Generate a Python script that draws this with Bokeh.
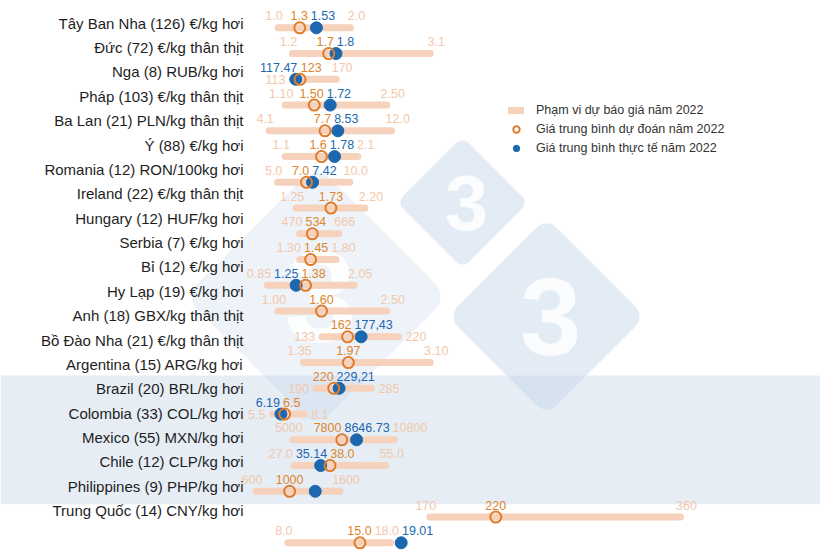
import math
from bokeh.plotting import figure
from bokeh.models import Range1d, ColumnDataSource, Legend, LegendItem
from bokeh.core.properties import value
from bokeh.embed import file_html
from bokeh.resources import INLINE

# ---------------- data ----------------
COUNTRIES = [
    "Tây Ban Nha (126) €/kg hơi",
    "Đức (72) €/kg thân thịt",
    "Nga (8) RUB/kg hơi",
    "Pháp (103) €/kg thân thịt",
    "Ba Lan (21) PLN/kg thân thịt",
    "Ý (88) €/kg hơi",
    "Romania (12) RON/100kg hơi",
    "Ireland (22) €/kg thân thịt",
    "Hungary (12) HUF/kg hơi",
    "Serbia (7) €/kg hơi",
    "Bỉ (12) €/kg hơi",
    "Hy Lạp (19) €/kg hơi",
    "Anh (18) GBX/kg thân thịt",
    "Bồ Đào Nha (21) €/kg thân thịt",
    "Argentina (15) ARG/kg hơi",
    "Brazil (20) BRL/kg hơi",
    "Colombia (33) COL/kg hơi",
    "Mexico (55) MXN/kg hơi",
    "Chile (12) CLP/kg hơi",
    "Philippines (9) PHP/kg hơi",
    "Trung Quốc (14) CNY/kg hơi",
]
# forecast range (min / max), forecast average, actual average (local currency)
MIN_TXT = ["1.0", "1.2", "113", "1.10", "4.1", "1.1", "5.0", "1.25", "470", "1.30", "0.85",
           "1.00", "133", "1.35", "190", "5.5", "5000", "27.0", "600", "170", "8.0"]
FC_TXT = ["1.3", "1.7", "123", "1.50", "7.7", "1.6", "7.0", "1.73", "534", "1.45", "1.38",
          "1.60", "162", "1.97", "220", "6.5", "7800", "38.0", "1000", "220", "15.0"]
MAX_TXT = ["2.0", "3.1", "170", "2.50", "12.0", "2.1", "10.0", "2.20", "666", "1.80", "2.05",
           "2.50", "220", "3.10", "285", "8.1", "10800", "55.0", "1600", "360", "18.0"]
ACT_TXT = ["1.53", "1.8", "117.47", "1.72", "8.53", "1.78", "7.42", None, None, None, "1.25",
           None, "177,43", None, "229,21", "6.19", "8646.73", "35.14", "1305", None, "19.01"]
ACT_LABEL_HIDDEN = {"Chile (12) CLP/kg hơi"}   # dot drawn, value not printed
# conversion of each local unit to EUR (common horizontal scale)
EUR_RATE = [1.0, 1.0, 0.0106, 1.0, 0.214, 1.0, 0.199, 1.0, 0.00276, 1.0, 1.0,
            1.0, 0.0121, 1.0, 0.00804, 0.168, 0.000241, 0.0452, 0.00116, 0.0182, 0.142]
LATAM = {"Argentina", "Brazil", "Colombia", "Mexico", "Chile"}
LEGEND_LABELS = ["Phạm vi dự báo giá năm 2022",
                 "Giá trung bình dự đoán năm 2022",
                 "Giá trung bình thực tế năm 2022"]

# ---------------- layout / style ----------------
W, H = 820, 557
PX_ZERO, PX_PER_EUR = 205.0, 72.5
ROW0, ROW_STEP = 27.3, 25.75
LAB0, LAB_STEP = 22.7, 24.37
LABEL_RIGHT = 243
FONT_NAME = "Liberation Sans"
FONT = value(FONT_NAME)
FS = 12.5
SIDE_MIN = {"Nga", "Anh", "Argentina", "Brazil"}
SIDE_MAX = {"Anh", "Argentina", "Brazil"}

BAR_C = "#F6D2BC"
PEACH_T = "#F3C8AA"
ORANGE = "#E07B2A"
ORANGE_T = "#E0852C"
BLUE = "#1C68B0"
BLUE_T = "#2268B0"


def num(s):
    return float(s.replace(",", "."))


def px2x(px):
    return (px - PX_ZERO) / PX_PER_EUR


def py2y(py):
    return (py - ROW0) / ROW_STEP


def x2px(x):
    return PX_ZERO + PX_PER_EUR * x


def text_w(s):
    return sum(0.278 if ch in ".," else 0.556 for ch in s) * FS


n = len(COUNTRIES)
rows = list(range(n))
mins = [num(s) * r for s, r in zip(MIN_TXT, EUR_RATE)]
fcs = [num(s) * r for s, r in zip(FC_TXT, EUR_RATE)]
maxs = [num(s) * r for s, r in zip(MAX_TXT, EUR_RATE)]
act_rows = [i for i in rows if ACT_TXT[i] is not None]
acts = [num(ACT_TXT[i]) * EUR_RATE[i] for i in act_rows]

p = figure(width=W, height=H, output_backend="svg", toolbar_location=None,
           x_range=Range1d(px2x(0), px2x(W)), y_range=Range1d(py2y(H), py2y(0)),
           min_border=0, x_axis_location=None, y_axis_location=None,
           outline_line_color=None, background_fill_color="white",
           border_fill_color="white")
p.grid.visible = False

# Latin-America band
lat = [i for i, c in enumerate(COUNTRIES) if c.split(" (")[0] in LATAM]
p.quad(left=px2x(0), right=px2x(W), bottom=max(lat) + 0.5, top=min(lat) - 0.5,
       fill_color="#E6EDF5", line_color=None)

# watermark (decorative rounded diamonds with "3")
def rounded_diamond(cx, cy, hd):
    s = hd / (0.8 * math.sqrt(2) + 0.2)
    rr = 0.2 * s
    pts = []
    for (sx, sy, a0) in [(1, 1, 0), (-1, 1, 90), (-1, -1, 180), (1, -1, 270)]:
        ccx, ccy = sx * (s - rr), sy * (s - rr)
        for k in range(10):
            a = math.radians(a0 + 90 * k / 9)
            pts.append((ccx + rr * math.cos(a), ccy + rr * math.sin(a)))
    xs, ys = [], []
    for (x, y) in pts:
        xr = (x - y) / math.sqrt(2)
        yr = (x + y) / math.sqrt(2)
        xs.append(px2x(cx + xr))
        ys.append(py2y(cy + yr))
    return xs, ys

WM = [(316, 296, 124, 0.30, 130), (462, 202, 62, 0.5, 78), (546, 316, 93, 0.5, 110)]
for cx, cy, hd, al, fsz in WM:
    xs, ys = rounded_diamond(cx, cy, hd)
    p.patch(xs, ys, fill_color="#C8D7EA", fill_alpha=al, line_color=None)
    p.text(x=[px2x(cx + 4)], y=[py2y(cy)], text=["3"], text_align="center",
           text_baseline="middle", text_font=FONT, text_font_style="bold",
           text_font_size=f"{fsz}px", text_color="white", text_alpha=0.85)

# range bars, actual dots, forecast circles
seg = p.segment(x0=mins, y0=rows, x1=maxs, y1=rows, line_color=BAR_C,
                line_width=7, line_cap="round")
dots = p.scatter(x=acts, y=act_rows, size=12, fill_color=BLUE, line_color=BLUE)
circ = p.scatter(x=fcs, y=rows, size=11, fill_alpha=0, line_color=ORANGE,
                 line_width=2)

# value labels
lab = {"x": [], "y": [], "t": [], "c": [], "a": []}
for i in rows:
    short = COUNTRIES[i].split(" (")[0]
    above = []
    y_up = i - 12 / ROW_STEP
    if short in SIDE_MIN:
        lab["x"].append(px2x(x2px(mins[i]) - 7)); lab["y"].append(i)
        lab["t"].append(MIN_TXT[i]); lab["c"].append(PEACH_T); lab["a"].append("right")
    else:
        above.append({"c": x2px(mins[i]) - 4, "t": MIN_TXT[i], "col": PEACH_T})
    if short in SIDE_MAX:
        lab["x"].append(px2x(x2px(maxs[i]) + 7)); lab["y"].append(i)
        lab["t"].append(MAX_TXT[i]); lab["c"].append(PEACH_T); lab["a"].append("left")
    else:
        above.append({"c": x2px(maxs[i]) + 6, "t": MAX_TXT[i], "col": PEACH_T})
    above.append({"c": x2px(fcs[i]), "t": FC_TXT[i], "col": ORANGE_T})
    if ACT_TXT[i] is not None and COUNTRIES[i] not in ACT_LABEL_HIDDEN:
        a = num(ACT_TXT[i]) * EUR_RATE[i]
        sgn = 1 if a >= fcs[i] else -1
        above.append({"c": x2px(a) + 6 * sgn, "t": ACT_TXT[i], "col": BLUE_T})
    for d in above:
        d["w"] = text_w(d["t"])
    above.sort(key=lambda d: d["c"])
    for _ in range(200):
        moved = False
        for d1, d2 in zip(above, above[1:]):
            ov = (d1["c"] + d1["w"] / 2 + 3) - (d2["c"] - d2["w"] / 2)
            if ov > 0.01:
                d1["c"] -= ov / 2
                d2["c"] += ov / 2
                moved = True
        if not moved:
            break
    for d in above:
        lab["x"].append(px2x(d["c"])); lab["y"].append(y_up)
        lab["t"].append(d["t"]); lab["c"].append(d["col"]); lab["a"].append("center")

p.text(x="x", y="y", text="t", text_color="c", text_align="a",
       source=ColumnDataSource(lab), text_baseline="middle", text_font=FONT,
       text_font_size=f"{FS}px")

# country labels
p.text(x=[px2x(LABEL_RIGHT)] * n, y=[py2y(LAB0 + LAB_STEP * i) for i in rows],
       text=COUNTRIES, text_align="right", text_baseline="middle", text_font=FONT,
       text_font_size="15px", text_color="#1e1e1e")

legend = Legend(items=[LegendItem(label=LEGEND_LABELS[0], renderers=[seg]),
                       LegendItem(label=LEGEND_LABELS[1], renderers=[circ]),
                       LegendItem(label=LEGEND_LABELS[2], renderers=[dots])],
                location=(508, 400), glyph_width=16, glyph_height=18,
                label_height=18, spacing=1, padding=0, margin=0,
                label_standoff=12, border_line_alpha=0, background_fill_alpha=0,
                label_text_font=FONT_NAME, label_text_font_size="12.5px",
                label_text_color="#333333")
p.add_layout(legend)

open("out.html", "w").write(file_html(p, INLINE))
